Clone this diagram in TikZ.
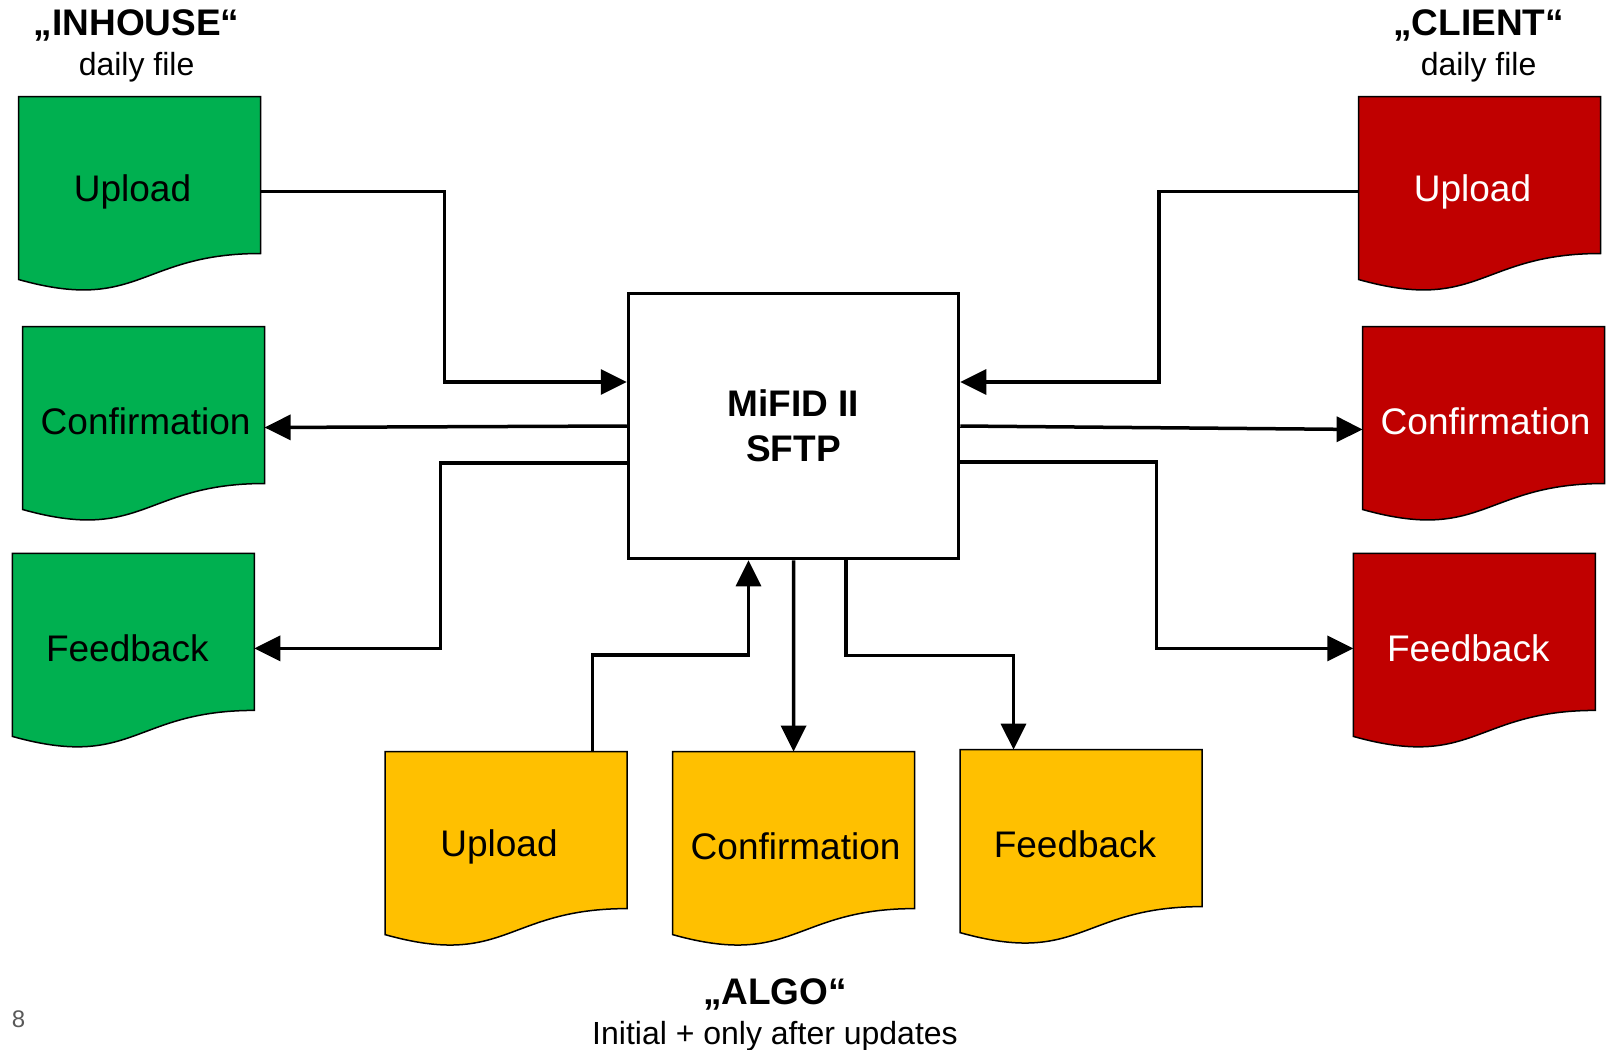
\documentclass[tikz,border=0pt]{standalone}
\usepackage{fontspec}
\setmainfont{Liberation Sans}
\usetikzlibrary{arrows.meta,calc}
\definecolor{inhouse}{HTML}{00B050}
\definecolor{client}{HTML}{C00000}
\definecolor{algo}{HTML}{FFC000}
\definecolor{pagenum}{HTML}{595959}
\begin{document}
\begin{tikzpicture}[x=1pt,y=-1pt,
    doc/.style={rectangle,minimum width=242pt,minimum height=190pt,inner sep=0pt,outer sep=0pt,font=\fontsize{37}{44}\selectfont},
    docline/.style={draw=black,line width=1.5pt},
    flow/.style={line width=3.5pt,-{Triangle[length=26pt,width=25pt]}},
    title/.style={font=\bfseries\fontsize{37}{44}\selectfont},
    subtitle/.style={font=\fontsize{32}{38}\selectfont}]
            \useasboundingbox (0,0) rectangle (1610,1050);
            % document shapes
            \foreach \nm/\px/\py/\col/\tc/\dx/\txt in {gup/18.5/96.5/inhouse/black/-7/Upload,
                gcf/22.6/326.5/inhouse/black/2/Confirmation,
                gfb/12.3/553.4/inhouse/black/-6/Feedback,
                rup/1358.5/96.5/client/white/-7/Upload,
                rcf/1362.6/326.5/client/white/2/Confirmation,
                rfb/1353.3/553.4/client/white/-6/Feedback,
                yup/385/751.6/algo/black/-7/Upload,
                ycf/672.6/751.6/algo/black/2/Confirmation,
                yfb/960/749.6/algo/black/-6/Feedback}{
                \begin{scope}[shift={(\px,\py)}]
                    \draw[docline,fill=\col] (0,0) -- (242,0) -- (242,157) .. controls (121,157) and (121,217) .. (0,183) -- cycle;
                    \node[doc,text=\tc] (\nm) at (121,95) {\hspace*{\dx pt}\txt\hspace*{-\dx pt}};
                \end{scope}
            }
            \node[draw,line width=3.5pt,minimum width=330pt,minimum height=265pt,align=center,font=\bfseries\fontsize{37}{45}\selectfont] (box) at (793.5,426) {MiFID II\\SFTP};
            % headings
            \node[title] (inhousett) at (136.6,25.5) {„INHOUSE“};
            \node[subtitle] (inhousesub) at (136.6,67.5) {daily file};
            \node[title] (clienttt) at (1478.6,25.5) {„CLIENT“};
            \node[subtitle] (clientsub) at (1478.6,67.5) {daily file};
            \node[title] (algott) at (775,994) {„ALGO“};
            \node[subtitle] (algosub) at (775,1036) {Initial + only after updates};
            \node[text=pagenum,font=\fontsize{24}{28}\selectfont] (pgno) at (18.5,1019) {8};
            % connectors
            \draw[flow] (gup.east) -- ++(184,0) |- ([yshift=44pt]box.west);
            \draw[flow] (box.west) -- ([yshift=-6pt]gcf.east);
            \draw[flow] ([yshift=-37pt]box.west) -- ++(-186.5,0) |- (gfb.east);
            \draw[flow] (rup.west) -- ++(-199.5,0) |- ([yshift=44pt]box.east);
            \draw[flow] (box.east) -- ([yshift=-8pt]rcf.west);
            \draw[flow] ([yshift=-36pt]box.east) -- ++(196,0) |- (rfb.west);
            \draw[flow] ([xshift=86.5pt]yup.north) -- ++(0,-96.6) -| ([xshift=-45pt]box.south);
            \draw[flow] (box.south) -- (ycf.north);
            \draw[flow] ([xshift=52.5pt]box.south) -- ++(0,95) -| ([xshift=-67.5pt]yfb.north);
\end{tikzpicture}
\end{document}
